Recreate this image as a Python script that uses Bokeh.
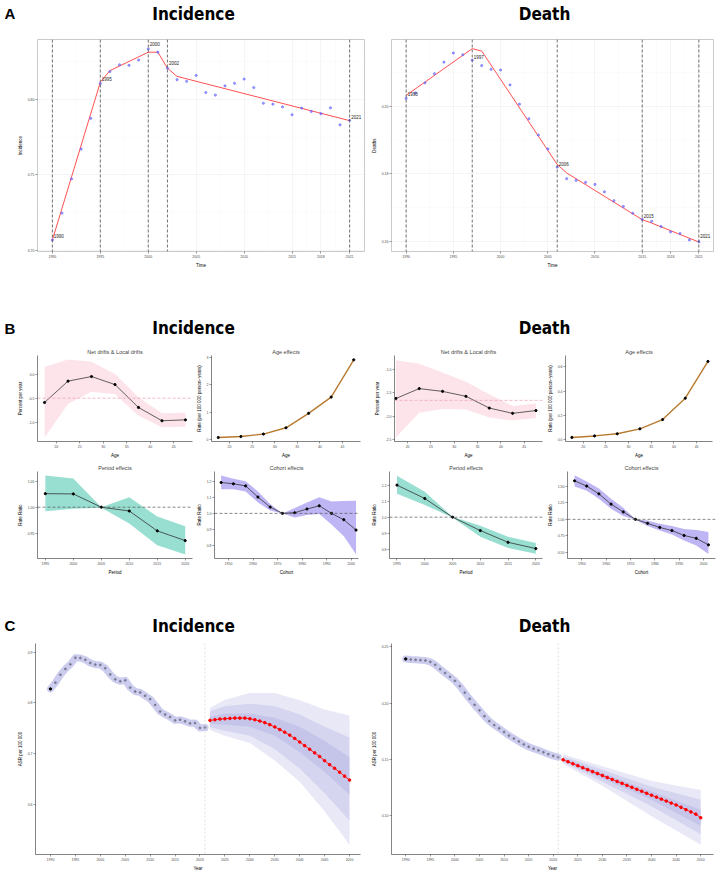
from bokeh.plotting import figure
from bokeh.layouts import column, row
from bokeh.models import Range1d, FixedTicker, Span, PrintfTickFormatter
from bokeh.core.properties import value
from bokeh.embed import file_html
from bokeh.resources import INLINE

# ---------------- A: joinpoint regression, 1990-2021 ----------------
jp_years = list(range(1990, 2022))
jp_inc_obs = [0.7069, 0.7247, 0.7474, 0.7671, 0.7874, 0.8104, 0.8184, 0.8229,
              0.8225, 0.8260, 0.8333, 0.8312, 0.8206, 0.8130, 0.8119, 0.8158,
              0.8045, 0.8028, 0.8089, 0.8106, 0.8134, 0.8078, 0.7974, 0.7968,
              0.7950, 0.7898, 0.7942, 0.7920, 0.7905, 0.7944, 0.7831, 0.7861]
jp_inc_fit_years = [1990, 1995, 1996, 2000, 2001, 2002, 2003, 2021]
jp_inc_fit = [0.7069, 0.8113, 0.8190, 0.8312, 0.8312, 0.8206, 0.8152, 0.7859]
jp_inc_breaks = [1990, 1995, 2000, 2002, 2021]

jp_death_obs = [0.2023, 0.2039, 0.2069, 0.2096, 0.2130, 0.2157, 0.2152, 0.2136,
                0.2120, 0.2109, 0.2107, 0.2063, 0.2006, 0.1963, 0.1915, 0.1874,
                0.1820, 0.1786, 0.1781, 0.1775, 0.1769, 0.1747, 0.1721, 0.1704,
                0.1684, 0.1666, 0.1660, 0.1645, 0.1629, 0.1624, 0.1605, 0.1600]
jp_death_fit_years = [1990, 1997, 1998, 2006, 2007, 2015, 2016, 2021]
jp_death_fit = [0.2032, 0.2170, 0.2163, 0.1828, 0.1803, 0.1665, 0.1655, 0.1599]
jp_death_breaks = [1990, 1997, 2006, 2015, 2021]

jp_xticks = [1990, 1995, 2000, 2005, 2010, 2015, 2018, 2021]

# ---------------- B: age-period-cohort model ----------------
apc_age = [17.5, 22.5, 27.5, 32.5, 37.5, 42.5, 47.5]
apc_period = [1995, 2000, 2005, 2010, 2015, 2020]
apc_cohort = [1947, 1952, 1957, 1962, 1967, 1972, 1977, 1982, 1987, 1992, 1997, 2002]

inc_local_drift = [-0.586, -0.146, -0.051, -0.217, -0.688, -0.962, -0.943]
inc_local_hi = [0.146, 0.299, 0.255, 0.000, -0.478, -0.809, -0.796]
inc_local_lo = [-1.306, -0.618, -0.363, -0.414, -0.860, -1.096, -1.083]
inc_net_drift = -0.497
inc_age_rate = [0.058, 0.093, 0.185, 0.417, 0.950, 1.553, 2.930]
inc_period_rr = [1.026, 1.0255, 1.000, 0.9927, 0.9545, 0.9358]
inc_period_hi = [1.061, 1.055, 1.000, 1.019, 0.982, 0.9636]
inc_period_lo = [0.992, 0.997, 0.999, 0.9685, 0.927, 0.909]
inc_cohort_rr = [1.191, 1.183, 1.170, 1.101, 1.039, 1.000, 1.004, 1.027, 1.047, 1.000, 0.961, 0.897]
inc_cohort_hi = [1.234, 1.214, 1.199, 1.136, 1.058, 1.000, 1.033, 1.068, 1.099, 1.074, 1.076, 1.078]
inc_cohort_lo = [1.150, 1.150, 1.136, 1.068, 1.018, 1.000, 0.975, 0.990, 0.996, 0.932, 0.858, 0.747]

death_local_drift = [-1.618, -1.408, -1.467, -1.572, -1.822, -1.934, -1.875]
death_local_hi = [-0.803, -0.882, -1.066, -1.263, -1.526, -1.776, -1.724]
death_local_lo = [-2.447, -1.921, -1.842, -1.855, -2.020, -2.086, -2.033]
death_net_drift = -1.658
death_age_rate = [0.0154, 0.0282, 0.046, 0.087, 0.164, 0.341, 0.646]
death_period_rr = [1.200, 1.1165, 1.000, 0.9165, 0.843, 0.804]
death_period_hi = [1.258, 1.159, 1.002, 0.946, 0.878, 0.839]
death_period_lo = [1.146, 1.076, 0.998, 0.878, 0.808, 0.771]
death_cohort_rr = [1.585, 1.505, 1.387, 1.231, 1.113, 1.000, 0.939, 0.877, 0.830, 0.755, 0.712, 0.613]
death_cohort_hi = [1.670, 1.575, 1.467, 1.311, 1.175, 1.000, 0.981, 0.934, 0.901, 0.854, 0.840, 0.807]
death_cohort_lo = [1.500, 1.434, 1.311, 1.160, 1.052, 0.995, 0.901, 0.830, 0.769, 0.679, 0.604, 0.476]

# ---------------- C: projection to 2050 ----------------
proj_hist_years = list(range(1990, 2022))
proj_fore_years = list(range(2022, 2051))

proj_inc_hist = [0.8277, 0.8400, 0.8555, 0.8670, 0.8760, 0.8890, 0.8884, 0.8850,
                 0.8787, 0.8755, 0.8748, 0.8684, 0.8561, 0.8465, 0.8426, 0.8445,
                 0.8303, 0.8226, 0.8206, 0.8142, 0.8077, 0.7961, 0.7832, 0.7774,
                 0.7723, 0.7658, 0.7671, 0.7639, 0.7600, 0.7606, 0.7510, 0.7516]
proj_inc_fore = [0.7658, 0.7671, 0.7684, 0.7690, 0.7697, 0.7703, 0.7703, 0.7703,
                 0.7690, 0.7671, 0.7645, 0.7613, 0.7574, 0.7529, 0.7477, 0.7426,
                 0.7368, 0.7303, 0.7232, 0.7161, 0.7090, 0.7019, 0.6948, 0.6865,
                 0.6787, 0.6716, 0.6639, 0.6561, 0.6484]
proj_inc_band_years = [2022, 2025, 2030, 2035, 2040, 2045, 2050]
proj_inc_outer_hi = [0.7903, 0.8065, 0.8194, 0.8194, 0.8052, 0.7871, 0.7755]
proj_inc_outer_lo = [0.7471, 0.7355, 0.7213, 0.6871, 0.6452, 0.5871, 0.5213]
proj_inc_mid_hi = [0.7839, 0.7935, 0.7987, 0.7935, 0.7774, 0.7535, 0.7323]
proj_inc_mid_lo = [0.7529, 0.7452, 0.7355, 0.7097, 0.6710, 0.6226, 0.5690]
proj_inc_in_hi = [0.7729, 0.7794, 0.7794, 0.7710, 0.7535, 0.7258, 0.6935]
proj_inc_in_lo = [0.7594, 0.7574, 0.7535, 0.7355, 0.7032, 0.6645, 0.6194]

proj_death_hist = [0.2392, 0.2387, 0.2384, 0.2381, 0.2378, 0.2366, 0.2340, 0.2302,
                   0.2267, 0.2233, 0.2198, 0.2151, 0.2093, 0.2038, 0.1985, 0.1936,
                   0.1884, 0.1840, 0.1805, 0.1776, 0.1744, 0.1712, 0.1686, 0.1660,
                   0.1634, 0.1613, 0.1596, 0.1581, 0.1564, 0.1547, 0.1532, 0.1520]
proj_death_fore = [0.1497, 0.1480, 0.1462, 0.1445, 0.1427, 0.1410, 0.1392, 0.1375,
                   0.1358, 0.1340, 0.1323, 0.1305, 0.1288, 0.1270, 0.1253, 0.1235,
                   0.1218, 0.1200, 0.1183, 0.1166, 0.1148, 0.1131, 0.1113, 0.1096,
                   0.1076, 0.1055, 0.1035, 0.1015, 0.0983]
proj_death_band_years = [2022, 2030, 2040, 2050]
proj_death_outer_hi = [0.1546, 0.1439, 0.1308, 0.1230]
proj_death_outer_lo = [0.1459, 0.1267, 0.0997, 0.0744]
proj_death_mid_hi = [0.1529, 0.1410, 0.1259, 0.1142]
proj_death_mid_lo = [0.1477, 0.1302, 0.1084, 0.0837]
proj_death_in_hi = [0.1515, 0.1381, 0.1215, 0.1055]
proj_death_in_lo = [0.1488, 0.1331, 0.1142, 0.0910]
proj_last_observed = 2021
proj_xticks = list(range(1990, 2051, 5))

FONT = "Liberation Sans"
HEAD_FONT = "DejaVu Sans Condensed"


def base(width, height, left, right, top, bottom, xr, yr, title=None, axes=True):
    kw = {}
    if not axes:
        kw = dict(x_axis_location=None, y_axis_location=None)
    p = figure(width=width, height=height, x_range=Range1d(*xr), y_range=Range1d(*yr),
               output_backend="svg", toolbar_location=None, title=title,
               min_border_left=left, min_border_right=right,
               min_border_top=top, min_border_bottom=bottom, **kw)
    p.background_fill_color = "white"
    p.border_fill_color = "white"
    p.outline_line_color = None
    if title is not None:
        p.title.text_font = FONT
        p.title.text_font_size = "5.5px"
        p.title.text_font_style = "normal"
        p.title.align = "center"
        p.title.standoff = 2
        p.title.offset = 0
    return p


def style_axes(p, xticks, yticks, yfmt, xlabel, ylabel, xminor=None, yminor=None,
               line_color="#333333"):
    p.xaxis.ticker = FixedTicker(ticks=xticks, minor_ticks=xminor or [])
    p.yaxis.ticker = FixedTicker(ticks=yticks, minor_ticks=yminor or [])
    p.yaxis.formatter = PrintfTickFormatter(format=yfmt)
    p.xaxis.axis_label = xlabel
    p.yaxis.axis_label = ylabel
    for ax in (p.xaxis[0], p.yaxis[0]):
        ax.major_label_text_font = FONT
        ax.major_label_text_font_size = "3.5px"
        ax.major_label_text_color = "#4d4d4d"
        ax.axis_label_text_font = FONT
        ax.axis_label_text_font_size = "4.5px"
        ax.axis_label_text_font_style = "normal"
        ax.axis_label_text_color = "black"
        ax.axis_label_standoff = 2
        ax.major_label_standoff = 1
        ax.major_tick_out = 2
        ax.major_tick_in = 0
        ax.minor_tick_out = 0
        ax.minor_tick_in = 0
        ax.major_tick_line_color = "#333333"
        ax.major_tick_line_width = 0.5
        ax.axis_line_color = line_color
        ax.axis_line_width = 0.6


def heading_strip(height, letter, letter_y, title_y):
    p = base(721, height, 0, 0, 0, 0, (0, 721), (height, 0), axes=False)
    p.grid.visible = False
    p.text(x=[4], y=[letter_y], text=[letter], text_font=value(FONT),
           text_font_style="bold", text_font_size="15px",
           text_align="left", text_baseline="middle", text_color="black")
    p.text(x=[193, 544], y=[title_y, title_y], text=["Incidence", "Death"],
           text_font=value(HEAD_FONT), text_font_style="bold", text_font_size="17px",
           text_align="center", text_baseline="middle", text_color="black")
    return p


# ---------------- A panels ----------------
def joinpoint_panel(width, left, right, yr, obs, fit_years, fit, breaks, yticks, yminor,
                    ylabel, label_dy):
    p = base(width, 240, left, right, 9, 15, (1988.45, 2022.55), yr)
    style_axes(p, jp_xticks, yticks, "%.2f", "Time", ylabel,
               xminor=[1992.5, 1997.5, 2002.5, 2007.5, 2012.5, 2016.5, 2019.5],
               yminor=yminor, line_color=None)
    p.outline_line_color = "#bdbdbd"
    p.outline_line_width = 0.8
    p.grid.grid_line_color = "#ebebeb"
    p.grid.grid_line_width = 0.5
    p.grid.minor_grid_line_color = "#f4f4f4"
    p.grid.minor_grid_line_width = 0.4
    for b in breaks:
        p.add_layout(Span(location=b, dimension="height", line_color="#4d4d4d",
                          line_dash="3 2", line_width=0.8))
    p.line(fit_years, fit, line_color="#ff5050", line_width=1.0)
    p.scatter(jp_years, obs, size=2.2, color="#6060ff", alpha=0.6)
    lab_y = [fit[fit_years.index(b)] for b in breaks]
    p.text(x=breaks, y=lab_y, text=[str(b) for b in breaks], x_offset=1.5,
           y_offset=label_dy, text_font=value(FONT), text_font_size="4.5px",
           text_align="left", text_baseline="middle", text_color="#222222")
    return p


a_inc = joinpoint_panel(368, 37, 4, (0.6993, 0.8396), jp_inc_obs, jp_inc_fit_years,
                        jp_inc_fit, jp_inc_breaks, [0.70, 0.75, 0.80],
                        [0.725, 0.775, 0.825], "Incidence", [-4, -3, -8, -5, -4])
a_death = joinpoint_panel(353, 20, 8, (0.1571, 0.2197), jp_death_obs, jp_death_fit_years,
                          jp_death_fit, jp_death_breaks, [0.16, 0.18, 0.20],
                          [0.17, 0.19, 0.21], "Deaths", [-1, 8, 0, -4, -6])


# ---------------- B panels ----------------
RATE_LABEL = "Rate (per 100 000 person\u2212years)"


def drift_panel(width, left, right, xr, yr, drift, lo, hi, net, yticks):
    p = base(width, 116, left, right, 11, 12, xr, yr, title="Net drifts & Local drifts")
    style_axes(p, [20, 25, 30, 35, 40, 45], yticks, "%.1f", "Age", "Percent per year")
    p.grid.visible = False
    p.varea(x=apc_age, y1=lo, y2=hi, fill_color="#f9c3d0", fill_alpha=0.45)
    p.add_layout(Span(location=net, dimension="width", line_color="#f2a7b8",
                      line_dash="3 2", line_width=0.8))
    p.line(apc_age, drift, line_color="#3a3a3a", line_width=0.8)
    p.scatter(apc_age, drift, size=2.2, color="black")
    return p


def age_panel(width, left, right, xr, yr, rate, yticks, yfmt):
    p = base(width, 116, left, right, 11, 12, xr, yr, title="Age effects")
    style_axes(p, [20, 25, 30, 35, 40, 45], yticks, yfmt, "Age", RATE_LABEL)
    p.grid.visible = False
    p.line(apc_age, rate, line_color="#b97a2f", line_width=1.4)
    p.scatter(apc_age, rate, size=2.2, color="black")
    return p


def rr_panel(width, left, right, xr, yr, xs, rr, lo, hi, xticks, yticks, yfmt,
             title, xlabel, band):
    p = base(width, 117, left, right, 11, 14, xr, yr, title=title)
    style_axes(p, xticks, yticks, yfmt, xlabel, "Rate Ratio")
    p.grid.visible = False
    p.varea(x=xs, y1=lo, y2=hi, fill_color=band, fill_alpha=0.85)
    p.add_layout(Span(location=1.0, dimension="width", line_color="#555555",
                      line_dash="3 2", line_width=0.7))
    p.line(xs, rr, line_color="#333333", line_width=0.8)
    p.scatter(xs, rr, size=2.2, color="black")
    return p


TEAL = "#86d8c9"
PURPLE = "#b3a8f2"

b_inc_drift = drift_panel(193, 37, 1, (16.0, 49.0), (-1.389, 0.382), inc_local_drift,
                          inc_local_lo, inc_local_hi, inc_net_drift, [-1.0, -0.5, 0.0])
b_inc_age = age_panel(175, 15, 8, (16.0, 49.0), (-0.09, 3.09), inc_age_rate,
                      [0, 1, 2, 3], "%d")
b_death_drift = drift_panel(176, 26, 2, (17.2, 48.9), (-2.533, -0.704), death_local_drift,
                            death_local_lo, death_local_hi, death_net_drift,
                            [-2.5, -2.0, -1.5, -1.0])
b_death_age = age_panel(177, 15, 9, (16.1, 48.5), (-0.018, 0.695), death_age_rate,
                        [0.0, 0.2, 0.4, 0.6], "%.1f")

b_inc_period = rr_panel(193, 37, 1, (1993.6, 2021.3), (0.9014, 1.0686), apc_period,
                        inc_period_rr, inc_period_lo, inc_period_hi,
                        [1995, 2000, 2005, 2010, 2015, 2020], [0.95, 1.00, 1.05], "%.2f",
                        "Period effects", "Period", TEAL)
b_inc_cohort = rr_panel(175, 15, 10, (1944.3, 2003.0), (0.721, 1.259), apc_cohort,
                        inc_cohort_rr, inc_cohort_lo, inc_cohort_hi,
                        [1950, 1960, 1970, 1980, 1990, 2000], [0.8, 0.9, 1.0, 1.1, 1.2],
                        "%.1f", "Cohort effects", "Cohort", PURPLE)
b_death_period = rr_panel(176, 17, 2, (1993.65, 2021.2), (0.742, 1.285), apc_period,
                          death_period_rr, death_period_lo, death_period_hi,
                          [1995, 2000, 2005, 2010, 2015, 2020], [0.8, 0.9, 1.0, 1.1, 1.2],
                          "%.1f", "Period effects", "Period", TEAL)
b_death_cohort = rr_panel(177, 16, 6, (1944.1, 2004.9), (0.406, 1.726), apc_cohort,
                          death_cohort_rr, death_cohort_lo, death_cohort_hi,
                          [1950, 1960, 1970, 1980, 1990, 2000],
                          [0.50, 0.75, 1.00, 1.25, 1.50], "%.2f", "Cohort effects",
                          "Cohort", PURPLE)


# ---------------- C panels ----------------
def projection_panel(width, left, right, xr, yr, hist, fore, band_years, bands, yticks, yfmt):
    p = base(width, 233, left, right, 3, 16, xr, yr)
    style_axes(p, proj_xticks, yticks, yfmt, "Year", "ASR per 100 000")
    p.grid.visible = False
    for lo, hi in bands:
        p.varea(x=band_years, y1=lo, y2=hi, fill_color="#8080d0", fill_alpha=0.18)
    p.add_layout(Span(location=proj_last_observed, dimension="height",
                      line_color="#cfcfcf", line_dash="2 2", line_width=0.7))
    p.line(proj_hist_years, hist, line_color="#9a9ade", line_alpha=0.5, line_width=7,
           line_join="round", line_cap="round")
    p.scatter(proj_hist_years[1:], hist[1:], size=1.8, color="#7a7a90")
    p.scatter(proj_hist_years[:1], hist[:1], size=2.4, color="black")
    p.line(proj_fore_years, fore, line_color="#ff2020", line_width=1.0)
    p.scatter(proj_fore_years, fore, size=2.6, color="#ff0000")
    return p


c_inc = projection_panel(368, 35, 8, (1987.0, 2052.2), (0.502, 0.917), proj_inc_hist,
                         proj_inc_fore, proj_inc_band_years,
                         [(proj_inc_outer_lo, proj_inc_outer_hi),
                          (proj_inc_mid_lo, proj_inc_mid_hi),
                          (proj_inc_in_lo, proj_inc_in_hi)],
                         [0.6, 0.7, 0.8, 0.9], "%.1f")
c_death = projection_panel(353, 20, 8, (1987.1, 2052.6), (0.0657, 0.2529), proj_death_hist,
                           proj_death_fore, proj_death_band_years,
                           [(proj_death_outer_lo, proj_death_outer_hi),
                            (proj_death_mid_lo, proj_death_mid_hi),
                            (proj_death_in_lo, proj_death_in_hi)],
                           [0.10, 0.15, 0.20, 0.25], "%.2f")

strip_a = heading_strip(30, "A", 12.5, 13)
strip_b = heading_strip(74, "B", 58, 57)
strip_c = heading_strip(63, "C", 48, 48)

layout = column(
    strip_a,
    row(a_inc, a_death, spacing=0),
    strip_b,
    row(b_inc_drift, b_inc_age, b_death_drift, b_death_age, spacing=0),
    row(b_inc_period, b_inc_cohort, b_death_period, b_death_cohort, spacing=0),
    strip_c,
    row(c_inc, c_death, spacing=0),
    spacing=0,
)

with open("out.html", "w") as f:
    f.write(file_html(layout, INLINE))
